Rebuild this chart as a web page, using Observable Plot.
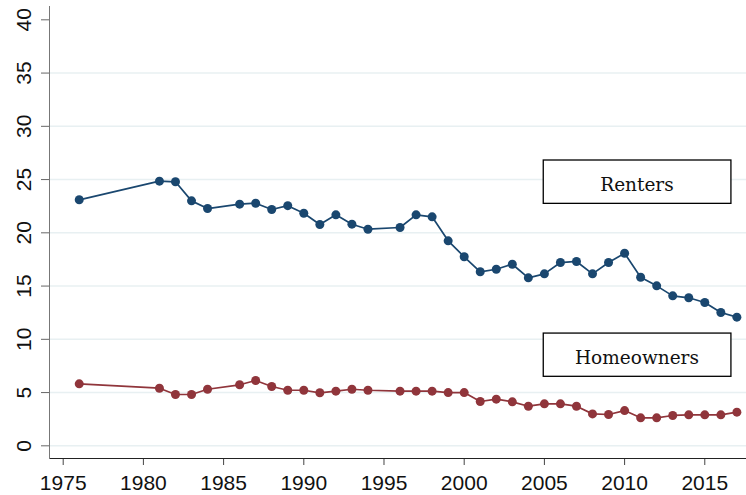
<!DOCTYPE html>
<html><head><meta charset="utf-8">
<script src="https://cdn.jsdelivr.net/npm/d3@7"></script>
<script src="https://cdn.jsdelivr.net/npm/@observablehq/plot@0.6"></script>
<style>html,body{margin:0;padding:0;background:#fff}#chart svg{display:block}</style>
</head><body><div id="chart"></div>
<script>
const years = [1976,1981,1982,1983,1984,1986,1987,1988,1989,1990,1991,1992,1993,1994,
  1996,1997,1998,1999,2000,2001,2002,2003,2004,2005,2006,2007,2008,2009,2010,2011,2012,2013,2014,2015,2016,2017];
const renters = [23.10,24.85,24.79,23.00,22.28,22.69,22.78,22.19,22.55,21.84,20.78,21.69,20.81,20.34,
  20.50,21.69,21.50,19.25,17.75,16.34,16.58,17.05,15.77,16.15,17.21,17.31,16.15,17.21,18.08,15.83,15.02,14.08,13.90,13.46,12.52,12.08];
const homeowners = [5.82,5.41,4.82,4.82,5.31,5.73,6.13,5.57,5.22,5.22,4.98,5.13,5.31,5.22,
  5.13,5.13,5.13,5.00,5.00,4.16,4.38,4.13,3.72,3.94,3.94,3.72,3.00,2.94,3.31,2.63,2.63,2.85,2.91,2.91,2.91,3.16];
const seriesNames = ["Renters", "Homeowners"];
const seriesColors = ["#1a476f", "#90353b"];
const xTicks = [1975,1980,1985,1990,1995,2000,2005,2010,2015];
const yTicks = [0,5,10,15,20,25,30,35,40];
const gridValues = [0,5,10,15,20,25,30,35];
// label boxes (data units)
const boxLabels = ["Renters", "Homeowners"];
const boxX1 = [2004.96, 2004.96];
const boxX2 = [2016.66, 2016.66];
const boxY1 = [22.72, 6.48];
const boxY2 = [26.79, 10.54];
const boxTextX = [2010.77, 2010.77];
const boxTextY = [24.5, 8.22];

const rows = [];
seriesNames.forEach((s, i) => {
  const vals = i === 0 ? renters : homeowners;
  years.forEach((yr, j) => rows.push({series: s, year: yr, value: vals[j]}));
});
const boxes = boxLabels.map((l, i) => ({label: l, x1: boxX1[i], x2: boxX2[i], y1: boxY1[i], y2: boxY2[i], tx: boxTextX[i], ty: boxTextY[i]}));

const chart = Plot.plot({
  width: 746,
  height: 495,
  marginLeft: 49,
  marginRight: 0,
  marginTop: 6,
  marginBottom: 37,
  style: {fontFamily: "'Liberation Sans', Arial, sans-serif", fontSize: "21px", background: "#fff", color: "#111"},
  x: {domain: [1974.146, 2017.6]},
  y: {domain: [-1.19, 41.25]},
  color: {domain: seriesNames, range: seriesColors},
  marks: [
    Plot.ruleY(gridValues, {stroke: "#e8f0f2", strokeWidth: 1.5}),
    Plot.line(rows, {x: "year", y: "value", z: "series", stroke: "series", strokeWidth: 1.7}),
    Plot.dot(rows, {x: "year", y: "value", fill: "series", r: 4.5, stroke: "none"}),
    Plot.rect(boxes, {x1: "x1", x2: "x2", y1: "y1", y2: "y2", fill: "#fff", stroke: "#000", strokeWidth: 1.3}),
    Plot.text(boxes, {x: "tx", y: "ty", text: "label", fontFamily: "'DejaVu Serif', serif", fontSize: 18.5, fill: "#111", lineAnchor: "middle"}),
    Plot.axisX({ticks: xTicks, tickFormat: d => String(d), tickSize: 7, tickPadding: 10, stroke: "#444", fontSize: 21, label: null}),
    Plot.axisY({ticks: yTicks, tickFormat: d => String(d), tickSize: 8, tickPadding: 11, tickRotate: -90, stroke: "#666", fontSize: 21, label: null}),
    Plot.frame({anchor: "bottom", stroke: "#222"}),
    Plot.frame({anchor: "left", stroke: "#777"})
  ]
});
document.getElementById("chart").appendChild(chart);
</script>
</body></html>
